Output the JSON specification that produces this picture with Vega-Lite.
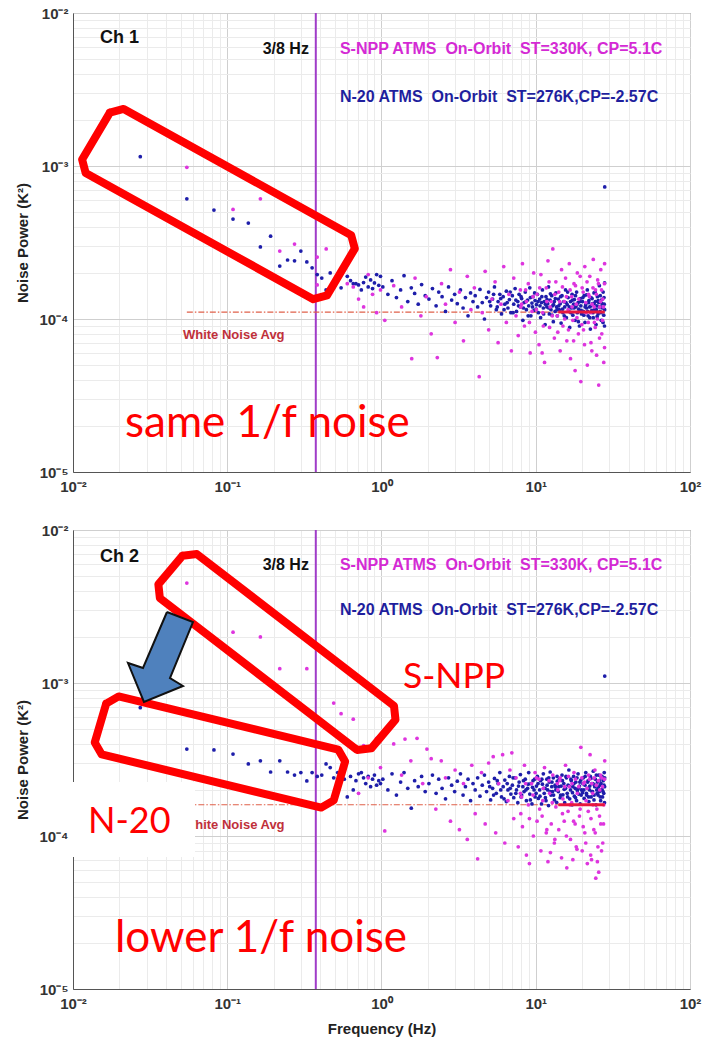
{
"$schema": "https://vega.github.io/schema/vega-lite/v6.json",
"background": "white",
"padding": {"left": 15, "top": 5, "right": 5, "bottom": 5},
"config": {
 "view": {"stroke": "#666", "strokeWidth": 1},
 "axis": {"labelFont": "Liberation Sans", "labelFontWeight": "bold", "labelFontSize": 15, "labelColor": "#333", "titleFont": "Liberation Sans", "titleFontWeight": "bold", "titleFontSize": 15, "titleColor": "#222", "domainColor": "#555", "ticks": false, "labelFlush": false, "labelOverlap": false, "gridWidth": 1}
},
"datasets": {
 "c1n": [{"f":0.0273,"v":1.15e-3},{"f":0.0547,"v":6.1e-4},{"f":0.082,"v":5.15e-4},{"f":0.109,"v":4.5e-4},{"f":0.137,"v":4.24e-4},{"f":0.164,"v":2.96e-4},{"f":0.191,"v":3.48e-4},{"f":0.219,"v":2.22e-4},{"f":0.246,"v":2.43e-4},{"f":0.273,"v":2.4e-4},{"f":0.3,"v":2.78e-4},{"f":0.328,"v":2.36e-4},{"f":0.355,"v":2.16e-4},{"f":0.383,"v":1.95e-4},{"f":0.41,"v":1.85e-4},{"f":0.437,"v":1.55e-4},{"f":0.465,"v":2.0e-4},{"f":0.49,"v":1.7e-4},{"f":0.52,"v":1.83e-4},{"f":0.547,"v":1.6e-4},{"f":0.574,"v":2.2e-4},{"f":0.6,"v":1.9e-4},{"f":0.63,"v":1.78e-4},{"f":0.656,"v":1.7e-4},{"f":0.683,"v":1.7e-4},{"f":0.71,"v":1.67e-4},{"f":0.74,"v":1.55e-4},{"f":0.765,"v":1.73e-4},{"f":0.79,"v":1.88e-4},{"f":0.82,"v":1.62e-4},{"f":0.85,"v":1.8e-4},{"f":0.875,"v":1.58e-4},{"f":0.9,"v":1.72e-4},{"f":0.93,"v":1.95e-4},{"f":0.96,"v":1.66e-4},{"f":0.985,"v":1.9e-4},
 {"f":1.02,"v":1.62e-4},{"f":1.1,"v":1.45e-4},{"f":1.17,"v":1.78e-4},{"f":1.25,"v":1.38e-4},{"f":1.33,"v":1.55e-4},{"f":1.4,"v":1.92e-4},{"f":1.48,"v":1.3e-4},{"f":1.56,"v":1.6e-4},{"f":1.64,"v":1.47e-4},{"f":1.73,"v":1.25e-4},{"f":1.82,"v":1.68e-4},{"f":1.92,"v":1.42e-4},
 {"f":2.03,"v":1.35e-4},{"f":2.14,"v":1.58e-4},{"f":2.26,"v":1.22e-4},{"f":2.35,"v":1.5e-4},{"f":2.47,"v":1.4e-4},{"f":2.6,"v":1.12e-4},{"f":2.72,"v":1.62e-4},{"f":2.85,"v":1.33e-4},{"f":2.98,"v":1.45e-4},{"f":3.1,"v":1.26e-4},{"f":3.25,"v":1.55e-4},{"f":3.38,"v":1.18e-4},{"f":3.5,"v":1.38e-4},{"f":3.64,"v":1.05e-4},{"f":3.78,"v":1.48e-4},{"f":3.92,"v":1.3e-4},
 {"f":4.05,"v":1.42e-4},{"f":4.2,"v":1.2e-4},{"f":4.35,"v":1.56e-4},{"f":4.5,"v":1.28e-4},{"f":4.65,"v":1.0e-4},{"f":4.8,"v":1.38e-4},{"f":4.95,"v":1.5e-4},{"f":5.1,"v":1.22e-4},{"f":5.25,"v":1.35e-4},{"f":5.4,"v":1.62e-4},{"f":5.55,"v":1.15e-4},{"f":5.7,"v":1.3e-4},{"f":5.85,"v":1.45e-4},{"f":6.0,"v":1.08e-4},{"f":6.15,"v":1.4e-4},{"f":6.3,"v":1.25e-4},{"f":6.45,"v":1.52e-4},{"f":6.6,"v":1.18e-4},{"f":6.75,"v":1.34e-4},{"f":6.9,"v":1.1e-4},
 {"f":7.05,"v":1.42e-4},{"f":7.2,"v":1.25e-4},{"f":7.35,"v":1.58e-4},{"f":7.5,"v":1.12e-4},{"f":7.65,"v":1.3e-4},{"f":7.8,"v":1.45e-4},{"f":7.95,"v":1.2e-4},{"f":8.1,"v":1.36e-4},{"f":8.25,"v":0.98e-4},{"f":8.4,"v":1.28e-4},{"f":8.55,"v":1.5e-4},{"f":8.7,"v":1.15e-4},{"f":8.85,"v":1.33e-4},{"f":9.0,"v":1.22e-4},{"f":9.15,"v":1.6e-4},{"f":9.3,"v":1.05e-4},{"f":9.45,"v":1.27e-4},{"f":9.6,"v":1.4e-4},{"f":9.75,"v":1.14e-4},{"f":9.9,"v":1.32e-4},
 {"f":10.1,"v":1.24e-4},{"f":10.25,"v":1.45e-4},{"f":10.4,"v":1.1e-4},{"f":10.6,"v":1.35e-4},{"f":10.75,"v":1.02e-4},{"f":10.9,"v":1.28e-4},{"f":11.05,"v":1.55e-4},{"f":11.2,"v":1.18e-4},{"f":11.35,"v":1.3e-4},{"f":11.5,"v":0.92e-4},{"f":11.65,"v":1.4e-4},{"f":11.8,"v":1.2e-4},{"f":11.95,"v":1.26e-4},{"f":12.1,"v":1.62e-4},{"f":12.25,"v":1.08e-4},{"f":12.4,"v":1.33e-4},{"f":12.55,"v":1.15e-4},{"f":12.7,"v":1.42e-4},{"f":12.85,"v":1.22e-4},{"f":13.0,"v":0.96e-4},{"f":13.2,"v":1.3e-4},{"f":13.35,"v":1.12e-4},{"f":13.5,"v":1.48e-4},{"f":13.65,"v":1.2e-4},{"f":13.8,"v":1.05e-4},
 {"f":14.0,"v":1.35e-4},{"f":14.2,"v":1.15e-4},{"f":14.4,"v":1.26e-4},{"f":14.6,"v":0.94e-4},{"f":14.8,"v":1.42e-4},{"f":15.0,"v":1.1e-4},{"f":15.2,"v":1.3e-4},{"f":15.4,"v":1.2e-4},{"f":15.6,"v":1.55e-4},{"f":15.8,"v":1.02e-4},{"f":16.0,"v":1.24e-4},{"f":16.2,"v":1.38e-4},{"f":16.4,"v":1.12e-4},{"f":16.6,"v":0.88e-4},{"f":16.8,"v":1.3e-4},{"f":17.0,"v":1.18e-4},{"f":17.2,"v":1.45e-4},{"f":17.4,"v":1.06e-4},{"f":17.6,"v":1.25e-4},{"f":17.8,"v":1.34e-4},{"f":18.0,"v":0.98e-4},{"f":18.2,"v":1.2e-4},{"f":18.4,"v":1.5e-4},{"f":18.6,"v":1.1e-4},{"f":18.8,"v":1.28e-4},{"f":19.0,"v":1.16e-4},{"f":19.2,"v":0.9e-4},{"f":19.4,"v":1.36e-4},{"f":19.6,"v":1.22e-4},{"f":19.8,"v":1.08e-4},
 {"f":20.1,"v":1.3e-4},{"f":20.35,"v":1.12e-4},{"f":20.6,"v":1.42e-4},{"f":20.85,"v":0.95e-4},{"f":21.1,"v":1.24e-4},{"f":21.35,"v":1.18e-4},{"f":21.6,"v":1.55e-4},{"f":21.85,"v":1.05e-4},{"f":22.1,"v":1.32e-4},{"f":22.35,"v":1.2e-4},{"f":22.6,"v":0.86e-4},{"f":22.85,"v":1.38e-4},{"f":23.1,"v":1.14e-4},{"f":23.35,"v":1.26e-4},{"f":23.6,"v":1.02e-4},{"f":23.85,"v":1.48e-4},{"f":24.1,"v":1.16e-4},{"f":24.35,"v":1.3e-4},{"f":24.6,"v":0.92e-4},{"f":24.85,"v":1.22e-4},{"f":25.1,"v":1.4e-4},{"f":25.35,"v":1.08e-4},{"f":25.6,"v":1.28e-4},{"f":25.85,"v":1.65e-4},{"f":26.1,"v":1.12e-4},{"f":26.35,"v":1.2e-4},{"f":26.6,"v":0.98e-4},{"f":26.85,"v":1.34e-4},{"f":27.1,"v":1.18e-4},{"f":27.35,"v":1.5e-4},{"f":27.6,"v":1.06e-4},{"f":27.8,"v":1.25e-4},{"f":27.95,"v":1.72e-4},{"f":28.0,"v":7.3e-4},{"f":27.9,"v":0.9e-4},
 {"f":5.03,"v":1.3e-4},{"f":5.33,"v":1.45e-4},{"f":5.63,"v":1.2e-4},{"f":5.93,"v":1.36e-4},{"f":6.23,"v":1.15e-4},{"f":6.53,"v":1.28e-4},{"f":6.83,"v":1.5e-4},{"f":7.13,"v":1.1e-4},{"f":7.43,"v":1.33e-4},{"f":7.73,"v":1.22e-4},{"f":8.03,"v":1.4e-4},{"f":8.33,"v":1.18e-4},{"f":8.63,"v":1.3e-4},{"f":8.93,"v":1.05e-4},{"f":9.23,"v":1.38e-4},{"f":9.53,"v":1.2e-4},{"f":9.83,"v":1.48e-4},
 {"f":10.05,"v":1.16e-4},{"f":10.35,"v":1.3e-4},{"f":10.65,"v":1.22e-4},{"f":10.95,"v":1.4e-4},{"f":11.25,"v":1.08e-4},{"f":11.55,"v":1.25e-4},{"f":11.85,"v":1.34e-4},{"f":12.15,"v":1.18e-4},{"f":12.45,"v":1.46e-4},{"f":12.75,"v":1.06e-4},{"f":13.05,"v":1.24e-4},{"f":13.4,"v":1.36e-4},{"f":13.75,"v":1.15e-4},
 {"f":14.1,"v":1.22e-4},{"f":14.5,"v":1.4e-4},{"f":14.9,"v":1.16e-4},{"f":15.3,"v":1.05e-4},{"f":15.7,"v":1.28e-4},{"f":16.1,"v":1.5e-4},{"f":16.5,"v":1.2e-4},{"f":16.9,"v":1.1e-4},{"f":17.3,"v":1.33e-4},{"f":17.7,"v":1.18e-4},{"f":18.1,"v":1.42e-4},{"f":18.5,"v":1.24e-4},{"f":18.9,"v":0.96e-4},{"f":19.3,"v":1.3e-4},{"f":19.7,"v":1.14e-4},
 {"f":20.2,"v":1.38e-4},{"f":20.5,"v":1.06e-4},{"f":20.9,"v":1.2e-4},{"f":21.3,"v":1.44e-4},{"f":21.7,"v":1.12e-4},{"f":22.0,"v":1.28e-4},{"f":22.4,"v":1.02e-4},{"f":22.8,"v":1.22e-4},{"f":23.2,"v":1.36e-4},{"f":23.5,"v":1.1e-4},{"f":23.9,"v":1.26e-4},{"f":24.3,"v":1.5e-4},{"f":24.7,"v":1.15e-4},{"f":25.0,"v":1.04e-4},{"f":25.4,"v":1.32e-4},{"f":25.8,"v":1.2e-4},{"f":26.2,"v":1.42e-4},{"f":26.5,"v":1.1e-4},{"f":26.9,"v":1.26e-4},{"f":27.3,"v":0.95e-4},{"f":27.7,"v":1.38e-4},{"f":27.97,"v":1.15e-4}],
 "c1s": [{"f":0.0547,"v":9.8e-4},{"f":0.109,"v":5.2e-4},{"f":0.164,"v":6.1e-4},{"f":0.219,"v":2.78e-4},{"f":0.273,"v":3.09e-4},{"f":0.383,"v":2.54e-4},{"f":0.383,"v":1.67e-4},{"f":0.438,"v":2.87e-4},{"f":0.49,"v":1.62e-4},{"f":0.6,"v":1.7e-4},{"f":0.656,"v":1.62e-4},{"f":0.71,"v":1.35e-4},{"f":0.766,"v":1.2e-4},{"f":0.82,"v":1.95e-4},{"f":0.875,"v":1.45e-4},{"f":0.93,"v":1.1e-4},{"f":0.985,"v":1.55e-4},
 {"f":1.05,"v":0.98e-4},{"f":1.2,"v":1.65e-4},{"f":1.35,"v":1.2e-4},{"f":1.57,"v":0.55e-4},{"f":1.65,"v":1.85e-4},{"f":1.8,"v":1.05e-4},{"f":1.95,"v":1.4e-4},
 {"f":2.1,"v":0.8e-4},{"f":2.3,"v":0.56e-4},{"f":2.45,"v":1.7e-4},{"f":2.6,"v":1.25e-4},{"f":2.8,"v":2.1e-4},{"f":3.0,"v":0.95e-4},{"f":3.2,"v":1.5e-4},{"f":3.4,"v":0.72e-4},{"f":3.6,"v":1.9e-4},{"f":3.8,"v":1.15e-4},
 {"f":4.0,"v":1.6e-4},{"f":4.3,"v":0.42e-4},{"f":4.5,"v":1.1e-4},{"f":4.7,"v":2.05e-4},{"f":4.95,"v":0.85e-4},{"f":5.2,"v":1.35e-4},{"f":5.45,"v":1.75e-4},{"f":5.7,"v":0.7e-4},{"f":5.95,"v":1.25e-4},{"f":6.2,"v":2.2e-4},{"f":6.45,"v":0.95e-4},{"f":6.7,"v":1.45e-4},{"f":6.95,"v":0.62e-4},
 {"f":7.2,"v":1.85e-4},{"f":7.45,"v":1.05e-4},{"f":7.7,"v":0.78e-4},{"f":7.95,"v":1.55e-4},{"f":8.2,"v":2.3e-4},{"f":8.45,"v":0.9e-4},{"f":8.7,"v":1.3e-4},{"f":8.95,"v":1.7e-4},{"f":9.2,"v":0.6e-4},{"f":9.45,"v":1.12e-4},{"f":9.7,"v":2.0e-4},{"f":9.95,"v":0.82e-4},{"f":8.0,"v":1.2e-4},
 {"f":10.2,"v":1.45e-4},{"f":10.5,"v":0.68e-4},{"f":10.8,"v":1.95e-4},{"f":11.1,"v":1.1e-4},{"f":11.4,"v":0.52e-4},{"f":11.7,"v":1.6e-4},{"f":12.0,"v":2.4e-4},{"f":12.3,"v":0.88e-4},{"f":12.6,"v":1.3e-4},{"f":12.9,"v":2.87e-4},{"f":13.2,"v":0.75e-4},{"f":13.5,"v":1.75e-4},{"f":13.8,"v":1.05e-4},{"f":11.0,"v":0.6e-4},{"f":12.4,"v":1.2e-4},
 {"f":14.1,"v":1.5e-4},{"f":14.4,"v":0.62e-4},{"f":14.7,"v":2.1e-4},{"f":15.0,"v":0.9e-4},{"f":15.3,"v":1.3e-4},{"f":15.6,"v":1.85e-4},{"f":15.9,"v":0.72e-4},{"f":16.2,"v":1.15e-4},{"f":16.5,"v":2.3e-4},{"f":16.8,"v":0.55e-4},{"f":17.1,"v":1.4e-4},{"f":17.4,"v":0.98e-4},{"f":17.7,"v":1.7e-4},{"f":18.0,"v":0.46e-4},{"f":18.3,"v":1.25e-4},{"f":18.6,"v":2.0e-4},{"f":18.9,"v":0.8e-4},{"f":19.6,"v":0.39e-4},
 {"f":20.0,"v":1.6e-4},{"f":20.4,"v":0.85e-4},{"f":20.8,"v":2.2e-4},{"f":21.2,"v":1.1e-4},{"f":21.6,"v":0.5e-4},{"f":22.0,"v":1.45e-4},{"f":22.4,"v":1.9e-4},{"f":22.8,"v":0.7e-4},{"f":23.2,"v":1.25e-4},{"f":23.6,"v":2.45e-4},{"f":24.0,"v":0.95e-4},{"f":24.4,"v":1.55e-4},{"f":24.8,"v":0.58e-4},{"f":25.2,"v":1.8e-4},{"f":25.6,"v":0.37e-4},{"f":26.0,"v":1.2e-4},{"f":26.4,"v":2.1e-4},{"f":26.8,"v":0.8e-4},{"f":27.2,"v":1.35e-4},{"f":27.6,"v":0.52e-4},{"f":27.95,"v":2.3e-4},{"f":27.9,"v":1.7e-4},
 {"f":8.1,"v":1.25e-4},{"f":8.6,"v":1.55e-4},{"f":9.1,"v":0.95e-4},{"f":9.6,"v":1.4e-4},{"f":10.1,"v":1.15e-4},{"f":10.6,"v":1.6e-4},{"f":11.2,"v":0.9e-4},{"f":11.8,"v":1.3e-4},{"f":12.2,"v":1.75e-4},{"f":12.8,"v":1.05e-4},{"f":13.3,"v":1.45e-4},{"f":13.9,"v":0.82e-4},{"f":14.3,"v":1.3e-4},{"f":14.9,"v":1.62e-4},{"f":15.4,"v":1.0e-4},{"f":15.8,"v":1.4e-4},{"f":16.3,"v":0.85e-4},{"f":16.7,"v":1.55e-4},{"f":17.2,"v":1.2e-4},{"f":17.6,"v":0.72e-4},{"f":18.1,"v":1.65e-4},{"f":18.5,"v":1.02e-4},{"f":19.0,"v":1.35e-4},{"f":19.4,"v":1.9e-4},{"f":19.9,"v":0.92e-4},{"f":20.3,"v":1.5e-4},{"f":20.7,"v":0.68e-4},{"f":21.1,"v":1.28e-4},{"f":21.5,"v":1.75e-4},{"f":21.9,"v":0.95e-4},{"f":22.3,"v":1.4e-4},{"f":22.7,"v":1.1e-4},{"f":23.1,"v":0.62e-4},{"f":23.5,"v":1.6e-4},{"f":23.9,"v":1.2e-4},{"f":24.3,"v":0.88e-4},{"f":24.7,"v":1.45e-4},{"f":25.1,"v":1.0e-4},{"f":25.5,"v":1.7e-4},{"f":25.9,"v":0.75e-4},{"f":26.3,"v":1.3e-4},{"f":26.7,"v":1.55e-4},{"f":27.1,"v":0.98e-4},{"f":27.5,"v":1.2e-4},{"f":27.92,"v":0.65e-4}],
 "c2n": [{"f":0.0273,"v":6.9e-4},{"f":0.0547,"v":3.7e-4},{"f":0.082,"v":3.65e-4},{"f":0.109,"v":3.43e-4},{"f":0.137,"v":2.96e-4},{"f":0.164,"v":3.1e-4},{"f":0.191,"v":2.62e-4},{"f":0.219,"v":3.1e-4},{"f":0.246,"v":2.62e-4},{"f":0.273,"v":2.5e-4},{"f":0.3,"v":2.6e-4},{"f":0.328,"v":2.29e-4},{"f":0.355,"v":2.6e-4},{"f":0.383,"v":2.45e-4},{"f":0.41,"v":2.5e-4},{"f":0.437,"v":2.96e-4},{"f":0.465,"v":2.8e-4},{"f":0.49,"v":2.4e-4},{"f":0.52,"v":2.6e-4},{"f":0.547,"v":2.6e-4},{"f":0.574,"v":2.35e-4},{"f":0.6,"v":1.8e-4},{"f":0.63,"v":2.45e-4},{"f":0.656,"v":2.0e-4},{"f":0.683,"v":2.3e-4},{"f":0.71,"v":2.55e-4},{"f":0.74,"v":2.6e-4},{"f":0.765,"v":2.4e-4},{"f":0.79,"v":2.2e-4},{"f":0.82,"v":2.45e-4},{"f":0.85,"v":2.1e-4},{"f":0.875,"v":2.35e-4},{"f":0.9,"v":2.5e-4},{"f":0.93,"v":2.15e-4},{"f":0.96,"v":2.3e-4},{"f":0.985,"v":2.2e-4},
 {"f":1.02,"v":2.35e-4},{"f":1.1,"v":2.0e-4},{"f":1.17,"v":2.55e-4},{"f":1.25,"v":1.85e-4},{"f":1.33,"v":2.25e-4},{"f":1.4,"v":2.6e-4},{"f":1.48,"v":2.05e-4},{"f":1.56,"v":1.52e-4},{"f":1.64,"v":2.3e-4},{"f":1.73,"v":2.1e-4},{"f":1.82,"v":2.45e-4},{"f":1.92,"v":1.95e-4},
 {"f":2.03,"v":2.2e-4},{"f":2.14,"v":2.5e-4},{"f":2.26,"v":1.9e-4},{"f":2.35,"v":2.35e-4},{"f":2.47,"v":2.05e-4},{"f":2.6,"v":1.75e-4},{"f":2.72,"v":2.4e-4},{"f":2.85,"v":2.15e-4},{"f":2.98,"v":1.95e-4},{"f":3.1,"v":2.28e-4},{"f":3.25,"v":2.55e-4},{"f":3.38,"v":1.85e-4},{"f":3.5,"v":2.1e-4},{"f":3.64,"v":2.35e-4},{"f":3.78,"v":1.7e-4},{"f":3.92,"v":2.2e-4},
 {"f":4.05,"v":2.0e-4},{"f":4.2,"v":2.4e-4},{"f":4.35,"v":1.82e-4},{"f":4.5,"v":2.15e-4},{"f":4.65,"v":2.5e-4},{"f":4.8,"v":1.95e-4},{"f":4.95,"v":2.25e-4},{"f":5.1,"v":1.72e-4},{"f":5.25,"v":2.05e-4},{"f":5.4,"v":2.38e-4},{"f":5.55,"v":1.9e-4},{"f":5.7,"v":2.2e-4},{"f":5.85,"v":2.6e-4},{"f":6.0,"v":1.8e-4},{"f":6.15,"v":2.1e-4},{"f":6.3,"v":2.32e-4},{"f":6.45,"v":1.68e-4},{"f":6.6,"v":2.0e-4},{"f":6.75,"v":2.45e-4},{"f":6.9,"v":1.88e-4},
 {"f":7.05,"v":2.15e-4},{"f":7.2,"v":1.78e-4},{"f":7.35,"v":2.4e-4},{"f":7.5,"v":2.0e-4},{"f":7.65,"v":1.65e-4},{"f":7.8,"v":2.25e-4},{"f":7.95,"v":2.52e-4},{"f":8.1,"v":1.85e-4},{"f":8.25,"v":2.1e-4},{"f":8.4,"v":1.95e-4},{"f":8.55,"v":2.35e-4},{"f":8.7,"v":1.7e-4},{"f":8.85,"v":2.05e-4},{"f":9.0,"v":2.6e-4},{"f":9.15,"v":1.88e-4},{"f":9.3,"v":2.2e-4},{"f":9.45,"v":1.62e-4},{"f":9.6,"v":2.3e-4},{"f":9.75,"v":2.0e-4},{"f":9.9,"v":1.8e-4},
 {"f":10.1,"v":2.12e-4},{"f":10.25,"v":2.45e-4},{"f":10.4,"v":1.76e-4},{"f":10.6,"v":2.0e-4},{"f":10.75,"v":2.3e-4},{"f":10.9,"v":1.62e-4},{"f":11.05,"v":2.18e-4},{"f":11.2,"v":2.55e-4},{"f":11.35,"v":1.9e-4},{"f":11.5,"v":2.05e-4},{"f":11.65,"v":1.7e-4},{"f":11.8,"v":2.35e-4},{"f":11.95,"v":2.0e-4},{"f":12.1,"v":1.58e-4},{"f":12.25,"v":2.25e-4},{"f":12.4,"v":2.62e-4},{"f":12.55,"v":1.85e-4},{"f":12.7,"v":2.1e-4},{"f":12.85,"v":1.95e-4},{"f":13.0,"v":2.4e-4},{"f":13.2,"v":1.72e-4},{"f":13.35,"v":2.15e-4},{"f":13.5,"v":2.0e-4},{"f":13.65,"v":1.66e-4},{"f":13.8,"v":2.28e-4},
 {"f":14.0,"v":1.95e-4},{"f":14.2,"v":2.35e-4},{"f":14.4,"v":1.78e-4},{"f":14.6,"v":2.12e-4},{"f":14.8,"v":2.5e-4},{"f":15.0,"v":1.86e-4},{"f":15.2,"v":2.2e-4},{"f":15.4,"v":1.65e-4},{"f":15.6,"v":2.05e-4},{"f":15.8,"v":2.4e-4},{"f":16.0,"v":1.9e-4},{"f":16.2,"v":2.15e-4},{"f":16.4,"v":2.7e-4},{"f":16.6,"v":1.75e-4},{"f":16.8,"v":2.0e-4},{"f":17.0,"v":2.3e-4},{"f":17.2,"v":1.6e-4},{"f":17.4,"v":2.1e-4},{"f":17.6,"v":2.45e-4},{"f":17.8,"v":1.82e-4},{"f":18.0,"v":2.05e-4},{"f":18.2,"v":2.25e-4},{"f":18.4,"v":1.7e-4},{"f":18.6,"v":1.98e-4},{"f":18.8,"v":2.55e-4},{"f":19.0,"v":1.88e-4},{"f":19.2,"v":2.12e-4},{"f":19.4,"v":1.62e-4},{"f":19.6,"v":2.32e-4},{"f":19.8,"v":2.0e-4},
 {"f":20.1,"v":1.92e-4},{"f":20.35,"v":2.4e-4},{"f":20.6,"v":1.76e-4},{"f":20.85,"v":2.15e-4},{"f":21.1,"v":2.6e-4},{"f":21.35,"v":1.85e-4},{"f":21.6,"v":2.05e-4},{"f":21.85,"v":2.3e-4},{"f":22.1,"v":1.68e-4},{"f":22.35,"v":2.0e-4},{"f":22.6,"v":2.45e-4},{"f":22.85,"v":1.8e-4},{"f":23.1,"v":2.2e-4},{"f":23.35,"v":1.95e-4},{"f":23.6,"v":2.65e-4},{"f":23.85,"v":1.72e-4},{"f":24.1,"v":2.1e-4},{"f":24.35,"v":2.35e-4},{"f":24.6,"v":1.6e-4},{"f":24.85,"v":2.0e-4},{"f":25.1,"v":2.25e-4},{"f":25.35,"v":1.85e-4},{"f":25.6,"v":2.5e-4},{"f":25.85,"v":1.95e-4},{"f":26.1,"v":2.15e-4},{"f":26.35,"v":1.7e-4},{"f":26.6,"v":2.4e-4},{"f":26.85,"v":2.02e-4},{"f":27.1,"v":1.8e-4},{"f":27.35,"v":2.3e-4},{"f":27.6,"v":1.9e-4},{"f":27.8,"v":2.6e-4},{"f":27.95,"v":2.1e-4},{"f":28.0,"v":1.11e-3},{"f":27.9,"v":1.65e-4},
 {"f":5.03,"v":2.1e-4},{"f":5.33,"v":1.85e-4},{"f":5.63,"v":2.3e-4},{"f":5.93,"v":2.0e-4},{"f":6.23,"v":1.75e-4},{"f":6.53,"v":2.2e-4},{"f":6.83,"v":2.05e-4},{"f":7.13,"v":2.4e-4},{"f":7.43,"v":1.9e-4},{"f":7.73,"v":2.12e-4},{"f":8.03,"v":1.8e-4},{"f":8.33,"v":2.3e-4},{"f":8.63,"v":2.0e-4},{"f":8.93,"v":2.18e-4},{"f":9.23,"v":1.72e-4},{"f":9.53,"v":2.08e-4},{"f":9.83,"v":2.35e-4},
 {"f":10.05,"v":1.9e-4},{"f":10.35,"v":2.2e-4},{"f":10.65,"v":1.82e-4},{"f":10.95,"v":2.35e-4},{"f":11.25,"v":2.05e-4},{"f":11.55,"v":1.78e-4},{"f":11.85,"v":2.15e-4},{"f":12.15,"v":2.4e-4},{"f":12.45,"v":1.95e-4},{"f":12.75,"v":2.25e-4},{"f":13.05,"v":1.85e-4},{"f":13.4,"v":2.1e-4},{"f":13.75,"v":2.45e-4},
 {"f":14.1,"v":2.1e-4},{"f":14.5,"v":1.85e-4},{"f":14.9,"v":2.3e-4},{"f":15.3,"v":2.02e-4},{"f":15.7,"v":2.45e-4},{"f":16.1,"v":1.8e-4},{"f":16.5,"v":2.12e-4},{"f":16.9,"v":2.35e-4},{"f":17.3,"v":1.92e-4},{"f":17.7,"v":2.2e-4},{"f":18.1,"v":1.78e-4},{"f":18.5,"v":2.4e-4},{"f":18.9,"v":2.05e-4},{"f":19.3,"v":2.25e-4},{"f":19.7,"v":1.85e-4},
 {"f":20.2,"v":2.2e-4},{"f":20.5,"v":2.0e-4},{"f":20.9,"v":2.45e-4},{"f":21.3,"v":1.9e-4},{"f":21.7,"v":2.25e-4},{"f":22.0,"v":1.8e-4},{"f":22.4,"v":2.12e-4},{"f":22.8,"v":2.38e-4},{"f":23.2,"v":1.95e-4},{"f":23.5,"v":2.2e-4},{"f":23.9,"v":1.85e-4},{"f":24.3,"v":2.15e-4},{"f":24.7,"v":2.5e-4},{"f":25.0,"v":1.9e-4},{"f":25.4,"v":2.08e-4},{"f":25.8,"v":2.3e-4},{"f":26.2,"v":1.8e-4},{"f":26.5,"v":2.2e-4},{"f":26.9,"v":2.45e-4},{"f":27.3,"v":1.95e-4},{"f":27.7,"v":2.15e-4},{"f":27.97,"v":2.4e-4}],
 "c2s": [{"f":0.0547,"v":4.5e-3},{"f":0.109,"v":2.15e-3},{"f":0.164,"v":2.0e-3},{"f":0.219,"v":1.24e-3},{"f":0.273,"v":7.7e-4},{"f":0.328,"v":1.24e-3},{"f":0.383,"v":5.9e-4},{"f":0.49,"v":7.4e-4},{"f":0.547,"v":6.3e-4},{"f":0.6,"v":4.0e-4},{"f":0.656,"v":5.8e-4},{"f":0.71,"v":1.9e-4},{"f":0.766,"v":3.9e-4},{"f":0.82,"v":2.4e-4},{"f":0.875,"v":3.8e-4},{"f":0.93,"v":4.35e-4},{"f":0.985,"v":2.8e-4},
 {"f":1.05,"v":1.08e-4},{"f":1.2,"v":4.0e-4},{"f":1.35,"v":2.5e-4},{"f":1.42,"v":4.3e-4},{"f":1.55,"v":3.1e-4},{"f":1.7,"v":4.35e-4},{"f":1.85,"v":2.2e-4},{"f":1.97,"v":3.7e-4},
 {"f":2.1,"v":3.2e-4},{"f":2.25,"v":1.5e-4},{"f":2.44,"v":3.1e-4},{"f":2.6,"v":2.4e-4},{"f":2.8,"v":1.25e-4},{"f":3.0,"v":2.7e-4},{"f":3.2,"v":1.1e-4},{"f":3.4,"v":2.2e-4},{"f":3.6,"v":0.95e-4},{"f":3.85,"v":2.9e-4},
 {"f":4.05,"v":1.4e-4},{"f":4.2,"v":0.71e-4},{"f":4.45,"v":2.6e-4},{"f":4.7,"v":1.2e-4},{"f":4.95,"v":3.0e-4},{"f":5.3,"v":3.3e-4},{"f":5.5,"v":1.05e-4},{"f":5.75,"v":2.2e-4},{"f":6.1,"v":3.4e-4},{"f":6.3,"v":0.9e-4},{"f":6.6,"v":1.7e-4},{"f":6.8,"v":2.7e-4},{"f":7.0,"v":3.5e-4},
 {"f":7.2,"v":1.3e-4},{"f":7.45,"v":2.4e-4},{"f":7.7,"v":0.85e-4},{"f":7.95,"v":1.9e-4},{"f":8.2,"v":1.15e-4},{"f":8.45,"v":2.9e-4},{"f":8.7,"v":0.75e-4},{"f":8.95,"v":1.6e-4},{"f":9.1,"v":0.66e-4},{"f":9.4,"v":2.2e-4},{"f":9.65,"v":1.0e-4},{"f":9.9,"v":2.6e-4},{"f":8.0,"v":1.4e-4},
 {"f":10.2,"v":1.25e-4},{"f":10.5,"v":2.35e-4},{"f":10.8,"v":0.8e-4},{"f":11.1,"v":1.7e-4},{"f":11.4,"v":2.8e-4},{"f":11.7,"v":1.05e-4},{"f":12.0,"v":0.68e-4},{"f":12.3,"v":1.9e-4},{"f":12.6,"v":1.2e-4},{"f":12.9,"v":2.5e-4},{"f":13.2,"v":0.9e-4},{"f":13.5,"v":1.55e-4},{"f":13.8,"v":2.2e-4},{"f":11.0,"v":1.35e-4},{"f":12.45,"v":0.78e-4},
 {"f":14.1,"v":1.1e-4},{"f":14.4,"v":2.4e-4},{"f":14.7,"v":0.72e-4},{"f":15.0,"v":1.75e-4},{"f":15.3,"v":1.25e-4},{"f":15.6,"v":2.9e-4},{"f":15.9,"v":0.62e-4},{"f":16.2,"v":1.45e-4},{"f":16.5,"v":2.1e-4},{"f":16.8,"v":0.95e-4},{"f":17.1,"v":1.65e-4},{"f":17.4,"v":0.7e-4},{"f":17.7,"v":2.6e-4},{"f":18.0,"v":1.2e-4},{"f":18.3,"v":0.85e-4},{"f":18.6,"v":1.9e-4},{"f":19.6,"v":3.8e-4},{"f":19.2,"v":1.35e-4},
 {"f":20.0,"v":0.8e-4},{"f":20.4,"v":2.2e-4},{"f":20.8,"v":1.05e-4},{"f":21.2,"v":1.7e-4},{"f":21.6,"v":0.66e-4},{"f":22.0,"v":2.5e-4},{"f":22.5,"v":3.4e-4},{"f":22.8,"v":1.3e-4},{"f":23.0,"v":0.7e-4},{"f":23.4,"v":1.9e-4},{"f":23.8,"v":1.1e-4},{"f":24.2,"v":2.7e-4},{"f":24.5,"v":0.53e-4},{"f":24.9,"v":1.5e-4},{"f":25.3,"v":0.85e-4},{"f":25.6,"v":0.58e-4},{"f":26.0,"v":2.0e-4},{"f":26.4,"v":1.2e-4},{"f":26.8,"v":2.4e-4},{"f":27.2,"v":0.9e-4},{"f":27.6,"v":1.6e-4},{"f":28.0,"v":3.1e-4},
 {"f":8.1,"v":1.8e-4},{"f":8.6,"v":2.2e-4},{"f":9.1,"v":1.3e-4},{"f":9.6,"v":1.85e-4},{"f":10.1,"v":2.4e-4},{"f":10.6,"v":1.5e-4},{"f":11.2,"v":2.05e-4},{"f":11.8,"v":1.1e-4},{"f":12.2,"v":2.3e-4},{"f":12.8,"v":1.65e-4},{"f":13.3,"v":0.95e-4},{"f":13.9,"v":2.0e-4},{"f":14.3,"v":2.3e-4},{"f":14.9,"v":1.4e-4},{"f":15.4,"v":2.1e-4},{"f":15.8,"v":1.0e-4},{"f":16.3,"v":2.45e-4},{"f":16.7,"v":1.6e-4},{"f":17.2,"v":2.2e-4},{"f":17.6,"v":1.25e-4},{"f":18.1,"v":2.35e-4},{"f":18.5,"v":0.82e-4},{"f":19.0,"v":2.1e-4},{"f":19.4,"v":1.5e-4},{"f":19.9,"v":2.4e-4},{"f":20.3,"v":1.15e-4},{"f":20.7,"v":2.25e-4},{"f":21.1,"v":0.9e-4},{"f":21.5,"v":2.05e-4},{"f":21.9,"v":1.45e-4},{"f":22.3,"v":2.35e-4},{"f":22.7,"v":0.75e-4},{"f":23.1,"v":2.2e-4},{"f":23.5,"v":1.6e-4},{"f":23.9,"v":2.4e-4},{"f":24.3,"v":1.05e-4},{"f":24.7,"v":2.15e-4},{"f":25.1,"v":0.68e-4},{"f":25.5,"v":2.3e-4},{"f":25.9,"v":1.35e-4},{"f":26.3,"v":2.5e-4},{"f":26.7,"v":0.8e-4},{"f":27.1,"v":2.1e-4},{"f":27.5,"v":1.2e-4},{"f":27.92,"v":2.35e-4}],
 "r1": [{"i":0,"f":0.01734,"v":2.234e-3},{"i":1,"f":0.02131,"v":2.361e-3},{"i":2,"f":0.6362,"v":3.529e-4},{"i":3,"f":0.6714,"v":2.884e-4},{"i":4,"f":0.4434,"v":1.426e-4},{"i":5,"f":0.3609,"v":1.347e-4},{"i":6,"f":0.01208,"v":9.015e-4},{"i":7,"f":0.01146,"v":1.104e-3},{"i":8,"f":0.01734,"v":2.234e-3}],
 "r2": [{"g":"s","i":0,"f":0.05132,"v":6.792e-3},{"g":"s","i":1,"f":0.06353,"v":6.958e-3},{"g":"s","i":2,"f":1.205,"v":7.085e-4},{"g":"s","i":3,"f":1.232,"v":5.755e-4},{"g":"s","i":4,"f":0.8588,"v":3.742e-4},{"g":"s","i":5,"f":0.6937,"v":3.653e-4},{"g":"s","i":6,"f":0.03657,"v":3.589e-3},{"g":"s","i":7,"f":0.03576,"v":4.417e-3},{"g":"s","i":8,"f":0.05132,"v":6.792e-3},
  {"g":"n","i":0,"f":0.01641,"v":7.335e-4},{"g":"n","i":1,"f":0.01977,"v":8.174e-4},{"g":"n","i":2,"f":0.5241,"v":3.67e-4},{"g":"n","i":3,"f":0.5808,"v":3.064e-4},{"g":"n","i":4,"f":0.4899,"v":1.709e-4},{"g":"n","i":5,"f":0.4066,"v":1.533e-4},{"g":"n","i":6,"f":0.01535,"v":3.415e-4},{"g":"n","i":7,"f":0.01384,"v":4.09e-4},{"g":"n","i":8,"f":0.01641,"v":7.335e-4}],
 "arrow": [{"i":0,"f":0.04067,"v":2.911e-3},{"i":1,"f":0.05995,"v":2.504e-3},{"i":2,"f":0.04253,"v":1.078e-3},{"i":3,"f":0.05163,"v":9.559e-4},{"i":4,"f":0.02884,"v":7.513e-4},{"i":5,"f":0.02272,"v":1.351e-3},{"i":6,"f":0.02843,"v":1.253e-3},{"i":7,"f":0.04067,"v":2.911e-3}]
},
"bounds": "flush",
"spacing": 58,
"vconcat": [
 {
  "width": 617, "height": 459,
  "encoding": {
   "x": {"field": "f", "type": "quantitative", "scale": {"type": "log", "domain": [0.01, 100], "nice": false},
    "axis": {"title": null, "grid": true, "labelPadding": 7,
     "values": [0.01,0.02,0.03,0.04,0.05,0.06,0.07,0.08,0.09,0.1,0.2,0.3,0.4,0.5,0.6,0.7,0.8,0.9,1,2,3,4,5,6,7,8,9,10,20,30,40,50,60,70,80,90,100],
     "labelExpr": "datum.value==0.01?'10⁻²':datum.value==0.1?'10⁻¹':datum.value==1?'10⁰':datum.value==10?'10¹':datum.value==100?'10²':''",
     "gridColor": {"condition": {"test": "datum.value==0.01||datum.value==0.1||datum.value==1||datum.value==10||datum.value==100", "value": "#cfcfcf"}, "value": "#ebebeb"}}},
   "y": {"field": "v", "type": "quantitative", "scale": {"type": "log", "domain": [1e-5, 1e-2], "nice": false},
    "axis": {"title": "Noise Power (K²)", "titlePadding": 8, "grid": true, "labelPadding": 5,
     "values": [1e-5,2e-5,3e-5,4e-5,5e-5,6e-5,7e-5,8e-5,9e-5,1e-4,2e-4,3e-4,4e-4,5e-4,6e-4,7e-4,8e-4,9e-4,1e-3,2e-3,3e-3,4e-3,5e-3,6e-3,7e-3,8e-3,9e-3,1e-2],
     "labelExpr": "datum.value==1e-5?'10⁻⁵':datum.value==1e-4?'10⁻⁴':datum.value==1e-3?'10⁻³':datum.value==1e-2?'10⁻²':''",
     "gridColor": {"condition": {"test": "datum.value==1e-5||datum.value==1e-4||datum.value==1e-3||datum.value==1e-2", "value": "#cfcfcf"}, "value": "#ebebeb"}}}
  },
  "layer": [
   {"data": {"values": [{"f": 0.375, "v": 1e-5, "v2": 1e-2}]}, "mark": {"type": "rule", "color": "#a03cc8", "strokeWidth": 2}, "encoding": {"y2": {"field": "v2"}}},
   {"data": {"values": [{"f": 0.0547, "f2": 28, "v": 1.11e-4}]}, "mark": {"type": "rule", "color": "#e0604a", "strokeWidth": 1.2, "strokeDash": [6, 2, 1.5, 2]}, "encoding": {"x2": {"field": "f2"}}},
   {"data": {"name": "c1n"}, "mark": {"type": "circle", "size": 14, "color": "#1e1eaa", "opacity": 1}},
   {"data": {"name": "c1s"}, "mark": {"type": "circle", "size": 14, "color": "#de35de", "opacity": 1}},
   {"data": {"values": [{"f": 14, "f2": 28, "v": 1.11e-4}]}, "mark": {"type": "rule", "color": "#e8173e", "strokeWidth": 3}, "encoding": {"x2": {"field": "f2"}}},
   {"data": {"values": [{"f": 0.01496, "v": 6.865e-3, "t": "Ch 1"}]}, "mark": {"type": "text", "align": "left", "baseline": "middle", "font": "Liberation Sans", "fontWeight": "bold", "fontSize": 18, "color": "#111"}, "encoding": {"text": {"field": "t"}}},
   {"data": {"values": [{"f": 0.3385, "v": 5.817e-3, "t": "3/8 Hz"}]}, "mark": {"type": "text", "align": "right", "baseline": "middle", "font": "Liberation Sans", "fontWeight": "bold", "fontSize": 16, "color": "#111"}, "encoding": {"text": {"field": "t"}}},
   {"data": {"values": [{"f": 0.5375, "v": 5.817e-3, "t": "S-NPP ATMS\u00a0\u00a0On-Orbit\u00a0\u00a0ST=330K, CP=5.1C"}]}, "mark": {"type": "text", "align": "left", "baseline": "middle", "font": "Liberation Sans", "fontWeight": "bold", "fontSize": 16, "color": "#d42ad4"}, "encoding": {"text": {"field": "t"}}},
   {"data": {"values": [{"f": 0.5375, "v": 2.825e-3, "t": "N-20 ATMS\u00a0\u00a0On-Orbit\u00a0\u00a0ST=276K,CP=-2.57C"}]}, "mark": {"type": "text", "align": "left", "baseline": "middle", "font": "Liberation Sans", "fontWeight": "bold", "fontSize": 16, "color": "#1f1f9e"}, "encoding": {"text": {"field": "t"}}},
   {"data": {"values": [{"f": 0.05163, "v": 7.858e-5, "t": "White Noise Avg"}]}, "mark": {"type": "text", "align": "left", "baseline": "middle", "font": "Liberation Sans", "fontWeight": "bold", "fontSize": 13, "color": "#c0303a"}, "encoding": {"text": {"field": "t"}}},
   {"data": {"name": "r1"}, "mark": {"type": "line", "color": "#ff0000", "strokeWidth": 8, "strokeJoin": "round", "strokeCap": "round"}, "encoding": {"order": {"field": "i", "type": "quantitative"}}},
   {"data": {"values": [{"f": 0.02173, "v": 1.694e-5, "t": "same 1/f noise"}]}, "mark": {"type": "text", "align": "left", "baseline": "alphabetic", "font": "Lato", "fontSize": 44, "color": "#ff0000"}, "encoding": {"text": {"field": "t"}}}
  ]
 },
 {
  "width": 617, "height": 459,
  "encoding": {
   "x": {"field": "f", "type": "quantitative", "scale": {"type": "log", "domain": [0.01, 100], "nice": false},
    "axis": {"title": "Frequency (Hz)", "titlePadding": 10, "grid": true, "labelPadding": 7,
     "values": [0.01,0.02,0.03,0.04,0.05,0.06,0.07,0.08,0.09,0.1,0.2,0.3,0.4,0.5,0.6,0.7,0.8,0.9,1,2,3,4,5,6,7,8,9,10,20,30,40,50,60,70,80,90,100],
     "labelExpr": "datum.value==0.01?'10⁻²':datum.value==0.1?'10⁻¹':datum.value==1?'10⁰':datum.value==10?'10¹':datum.value==100?'10²':''",
     "gridColor": {"condition": {"test": "datum.value==0.01||datum.value==0.1||datum.value==1||datum.value==10||datum.value==100", "value": "#cfcfcf"}, "value": "#ebebeb"}}},
   "y": {"field": "v", "type": "quantitative", "scale": {"type": "log", "domain": [1e-5, 1e-2], "nice": false},
    "axis": {"title": "Noise Power (K²)", "titlePadding": 8, "grid": true, "labelPadding": 5,
     "values": [1e-5,2e-5,3e-5,4e-5,5e-5,6e-5,7e-5,8e-5,9e-5,1e-4,2e-4,3e-4,4e-4,5e-4,6e-4,7e-4,8e-4,9e-4,1e-3,2e-3,3e-3,4e-3,5e-3,6e-3,7e-3,8e-3,9e-3,1e-2],
     "labelExpr": "datum.value==1e-5?'10⁻⁵':datum.value==1e-4?'10⁻⁴':datum.value==1e-3?'10⁻³':datum.value==1e-2?'10⁻²':''",
     "gridColor": {"condition": {"test": "datum.value==1e-5||datum.value==1e-4||datum.value==1e-3||datum.value==1e-2", "value": "#cfcfcf"}, "value": "#ebebeb"}}}
  },
  "layer": [
   {"data": {"values": [{"f": 0.375, "v": 1e-5, "v2": 1e-2}]}, "mark": {"type": "rule", "color": "#a03cc8", "strokeWidth": 2}, "encoding": {"y2": {"field": "v2"}}},
   {"data": {"values": [{"f": 0.0547, "f2": 28, "v": 1.6e-4}]}, "mark": {"type": "rule", "color": "#e0604a", "strokeWidth": 1.2, "strokeDash": [6, 2, 1.5, 2]}, "encoding": {"x2": {"field": "f2"}}},
   {"data": {"name": "c2n"}, "mark": {"type": "circle", "size": 14, "color": "#1e1eaa", "opacity": 1}},
   {"data": {"name": "c2s"}, "mark": {"type": "circle", "size": 14, "color": "#de35de", "opacity": 1}},
   {"data": {"values": [{"f": 14, "f2": 28, "v": 1.6e-4}]}, "mark": {"type": "rule", "color": "#e8173e", "strokeWidth": 3}, "encoding": {"x2": {"field": "f2"}}},
   {"data": {"values": [{"f": 0.01496, "v": 6.66e-3, "t": "Ch 2"}]}, "mark": {"type": "text", "align": "left", "baseline": "middle", "font": "Liberation Sans", "fontWeight": "bold", "fontSize": 18, "color": "#111"}, "encoding": {"text": {"field": "t"}}},
   {"data": {"values": [{"f": 0.3385, "v": 5.9e-3, "t": "3/8 Hz"}]}, "mark": {"type": "text", "align": "right", "baseline": "middle", "font": "Liberation Sans", "fontWeight": "bold", "fontSize": 16, "color": "#111"}, "encoding": {"text": {"field": "t"}}},
   {"data": {"values": [{"f": 0.5375, "v": 5.9e-3, "t": "S-NPP ATMS\u00a0\u00a0On-Orbit\u00a0\u00a0ST=330K, CP=5.1C"}]}, "mark": {"type": "text", "align": "left", "baseline": "middle", "font": "Liberation Sans", "fontWeight": "bold", "fontSize": 16, "color": "#d42ad4"}, "encoding": {"text": {"field": "t"}}},
   {"data": {"values": [{"f": 0.5375, "v": 3.0e-3, "t": "N-20 ATMS\u00a0\u00a0On-Orbit\u00a0\u00a0ST=276K,CP=-2.57C"}]}, "mark": {"type": "text", "align": "left", "baseline": "middle", "font": "Liberation Sans", "fontWeight": "bold", "fontSize": 16, "color": "#1f1f9e"}, "encoding": {"text": {"field": "t"}}},
   {"data": {"values": [{"f": 0.05163, "v": 1.18e-4, "t": "White Noise Avg"}]}, "mark": {"type": "text", "align": "left", "baseline": "middle", "font": "Liberation Sans", "fontWeight": "bold", "fontSize": 13, "color": "#c0303a"}, "encoding": {"text": {"field": "t"}}},
   {"data": {"name": "r2"}, "mark": {"type": "line", "color": "#ff0000", "strokeWidth": 8, "strokeJoin": "round", "strokeCap": "round"}, "encoding": {"detail": {"field": "g"}, "order": {"field": "i", "type": "quantitative"}}},
   {"data": {"name": "arrow"}, "mark": {"type": "line", "fill": "#4f81bd", "stroke": "#111111", "strokeWidth": 2, "strokeJoin": "miter"}, "encoding": {"order": {"field": "i", "type": "quantitative"}}},
   {"data": {"values": [{"f": 0.00985, "f2": 0.0618, "v": 2.25e-4, "v2": 7.3e-5}]}, "mark": {"type": "rect", "color": "white", "opacity": 1}, "encoding": {"x2": {"field": "f2"}, "y2": {"field": "v2"}}},
   {"data": {"values": [{"f": 0.01251, "v": 1.047e-4, "t": "N-20"}]}, "mark": {"type": "text", "align": "left", "baseline": "alphabetic", "font": "Lato", "fontSize": 36, "color": "#ff0000"}, "encoding": {"text": {"field": "t"}}},
   {"data": {"values": [{"f": 1.376, "v": 9.275e-4, "t": "S-NPP"}]}, "mark": {"type": "text", "align": "left", "baseline": "alphabetic", "font": "Lato", "fontSize": 35.5, "color": "#ff0000"}, "encoding": {"text": {"field": "t"}}},
   {"data": {"values": [{"f": 0.01871, "v": 1.746e-5, "t": "lower 1/f noise"}]}, "mark": {"type": "text", "align": "left", "baseline": "alphabetic", "font": "Lato", "fontSize": 44, "color": "#ff0000"}, "encoding": {"text": {"field": "t"}}}
  ]
 }
]
}
